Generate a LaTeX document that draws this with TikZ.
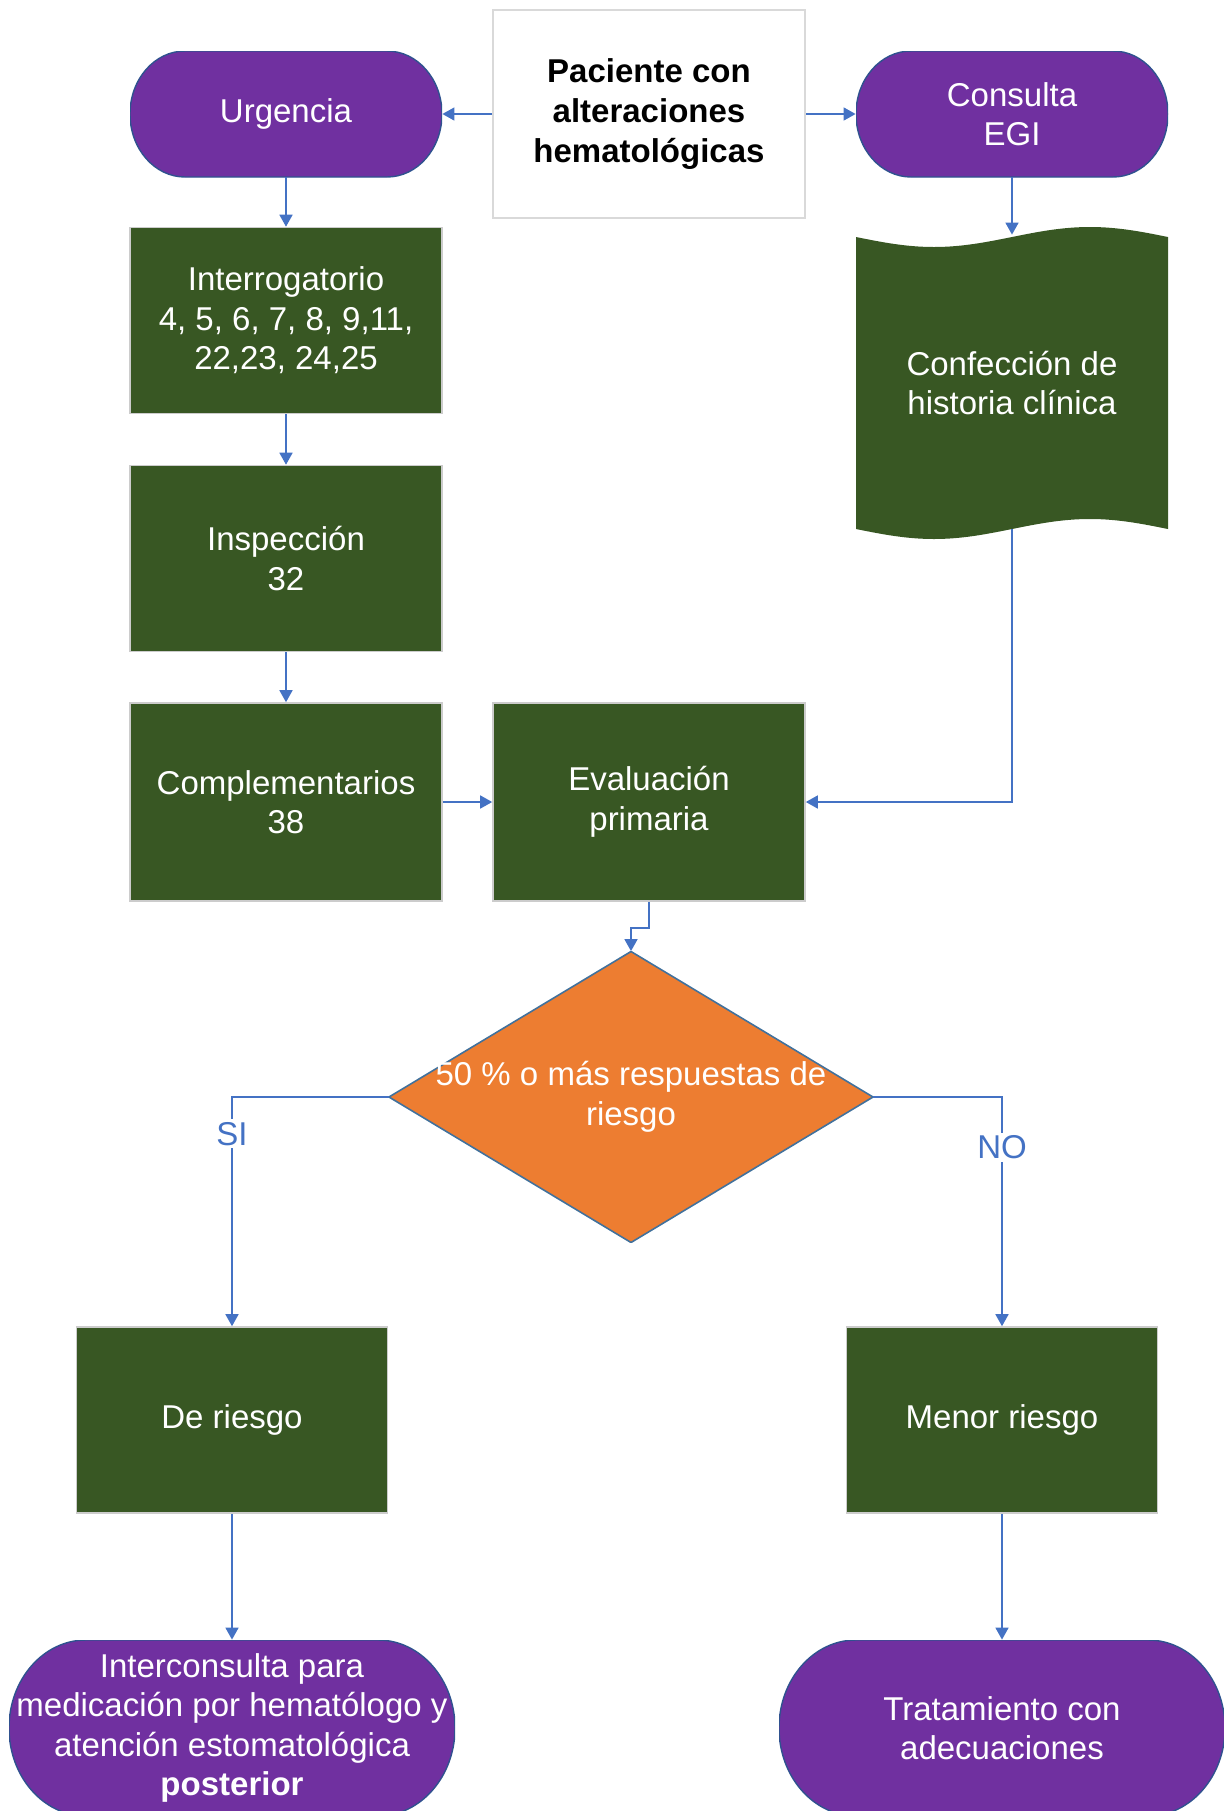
\documentclass[tikz,border=0pt]{standalone}
\usepackage{fontspec}
\setmainfont{Liberation Sans}
\usetikzlibrary{arrows.meta}

\definecolor{purp}{HTML}{7030A0}
\definecolor{purpline}{HTML}{2F528F}
\definecolor{dkgreen}{HTML}{385723}
\definecolor{orng}{HTML}{ED7D31}
\definecolor{dialine}{HTML}{41719C}
\definecolor{arrblue}{HTML}{4472C4}

\tikzset{
  txt/.style={font=\fontsize{16.5}{19.75}\selectfont, align=center, inner sep=0pt},
  % rounded terminator: width, height, horizontal radius of the ends
  stadium/.style n args={3}{txt, rectangle, text=white,
    minimum width=#1, minimum height=#2,
    path picture={
      \path[fill=purp, draw=purpline, line width=0.7pt]
        ([xshift=#3]path picture bounding box.north west)
        -- ([xshift=-#3]path picture bounding box.north east)
        arc[start angle=90, end angle=-90, x radius=#3, y radius=#2/2]
        -- ([xshift=#3]path picture bounding box.south west)
        arc[start angle=270, end angle=90, x radius=#3, y radius=#2/2]
        -- cycle;}},
  gbox/.style={txt, rectangle, text=white, fill=dkgreen, draw=gray!40,
    line width=0.8pt, minimum width=156pt},
  pbox/.style={txt, rectangle, text=black, fill=white, draw=gray!30,
    line width=1pt, minimum width=156pt, minimum height=104pt,
    font=\fontsize{16.5}{20}\selectfont\bfseries},
  % punched-tape shape with a wavy top and bottom edge
  tape/.style={txt, rectangle, text=white, minimum width=156pt,
    minimum height=156pt,
    path picture={
      \fill[dkgreen] ([yshift=-5pt]path picture bounding box.north west)
        sin ++(39pt,-5pt) cos ++(39pt,5pt) sin ++(39pt,5pt) cos ++(39pt,-5pt)
        -- ++(0,-146pt)
        sin ++(-39pt,5pt) cos ++(-39pt,-5pt) sin ++(-39pt,-5pt) cos ++(-39pt,5pt)
        -- cycle;}},
  decision/.style={txt, rectangle, text=white, minimum width=242pt,
    minimum height=145.5pt,
    path picture={
      \path[fill=orng, draw=dialine, line width=0.8pt]
        (path picture bounding box.north) -- (path picture bounding box.east)
        -- (path picture bounding box.south) -- (path picture bounding box.west)
        -- cycle;}},
  arr/.style={draw=arrblue, line width=0.8pt,
    -{Triangle[length=6pt, width=6.5pt]}},
  lab/.style={txt, text=arrblue, fill=white, inner sep=1.5pt},
}

\begin{document}
\begin{tikzpicture}[x=0.5pt, y=-0.5pt]
  \useasboundingbox (0,0) rectangle (1223,1811);

  % start
  \node[pbox] (pac) at (649,114) {Paciente con\\alteraciones\\hematológicas};
  \node[stadium={156pt}{63pt}{27.5pt}] (urg) at (286,114) {Urgencia};
  \node[stadium={156pt}{63pt}{27.5pt}] (cons) at (1012,114) {Consulta\\EGI};

  % emergency branch
  \node[gbox, minimum height=93pt] (int) at (286,320.5)
    {Interrogatorio\\4, 5, 6, 7, 8, 9,11,\\22,23, 24,25};
  \node[gbox, minimum height=93pt] (insp) at (286,558.5) {Inspección\\32};
  \node[gbox, minimum height=99pt] (comp) at (286,802) {Complementarios\\38};
  \node[gbox, minimum height=99pt] (eva) at (649,802) {Evaluación\\primaria};

  % consultation branch
  \node[tape] (doc) at (1012,383) {Confección de\\historia clínica};

  % decision
  \node[decision] (dia) at (631,1097) {50 \% o más respuestas de\\riesgo};

  % outcomes
  \node[gbox, minimum height=93pt, minimum width=155.5pt] (der) at (232,1420) {De riesgo};
  \node[gbox, minimum height=93pt, minimum width=155.5pt] (men) at (1002,1420) {Menor riesgo};
  \node[stadium={223pt}{88pt}{38.5pt}] (inter) at (232,1728)
    {Interconsulta para\\medicación por hematólogo y\\atención estomatológica\\\textbf{posterior}};
  \node[stadium={223pt}{88pt}{38.5pt}] (trat) at (1002,1728)
    {Tratamiento con\\adecuaciones};

  % connectors
  \draw[arr] (pac.west) -- (urg.east);
  \draw[arr] (pac.east) -- (cons.west);
  \draw[arr] (urg.south) -- (int.north);
  \draw[arr] (int.south) -- (insp.north);
  \draw[arr] (insp.south) -- (comp.north);
  \draw[arr] (comp.east) -- (eva.west);
  \draw[arr] (cons.south) -- ([yshift=-4pt]doc.north);
  \draw[arr] ([yshift=5pt]doc.south) |- (eva.east);
  \draw[arr] (eva.south) -- ++(0,-13pt) -| (dia.north);
  \draw[arr] (dia.west) -| (der.north) node[lab, pos=0.58] {SI};
  \draw[arr] (dia.east) -| (men.north) node[lab, pos=0.61] {NO};
  \draw[arr] (der.south) -- (inter.north);
  \draw[arr] (men.south) -- (trat.north);
\end{tikzpicture}
\end{document}
